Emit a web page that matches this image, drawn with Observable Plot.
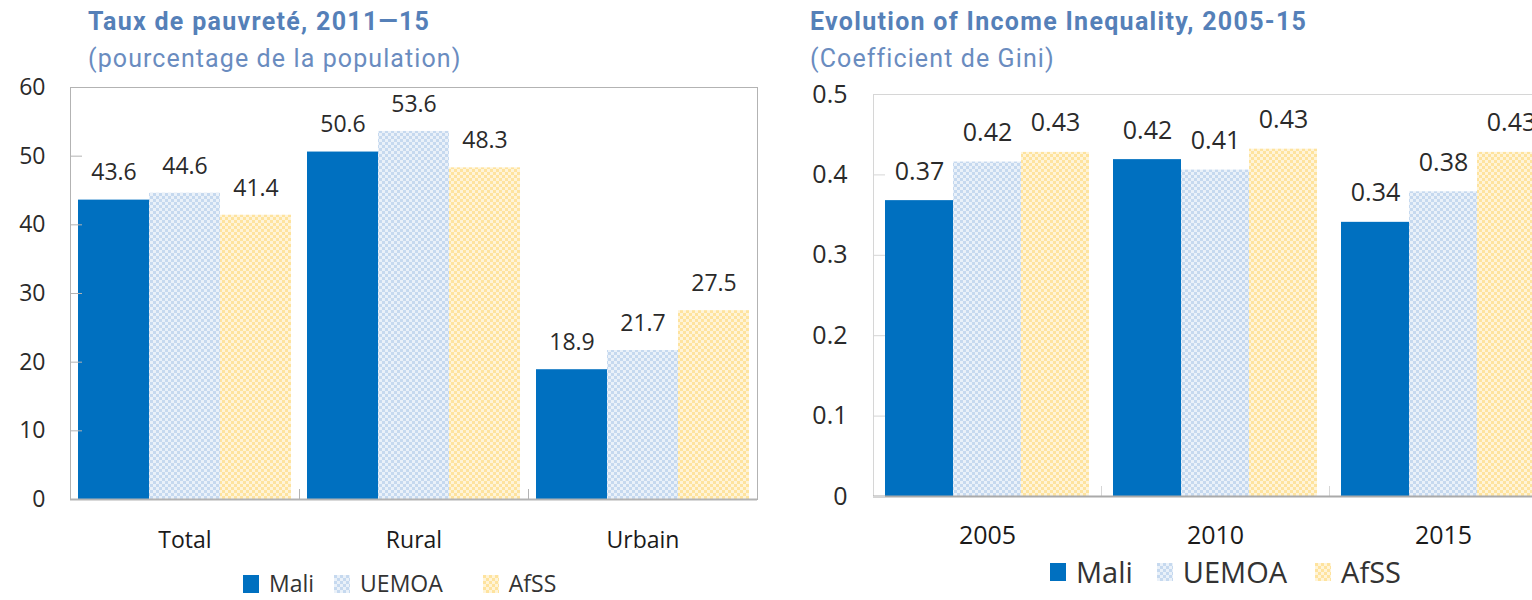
<!DOCTYPE html>
<html><head><meta charset="utf-8">
<script src="https://cdn.jsdelivr.net/npm/d3@7"></script>
<script src="https://cdn.jsdelivr.net/npm/@observablehq/plot@0.6"></script>
<style>
body{margin:0;width:1532px;height:600px;overflow:hidden;background:#fff;font-family:"Open Sans",Roboto,sans-serif;position:relative}
.abs{position:absolute;white-space:nowrap;line-height:1}
.title{color:#5580b8;font-family:Roboto,sans-serif;font-weight:bold;font-size:25px;letter-spacing:1.3px}
.sub{color:#6a8cbf;font-family:Roboto,sans-serif;font-size:25px;letter-spacing:1.1px}
.legend{display:flex;align-items:center;color:#333}
.legend .sw{display:inline-block;margin-right:10px}
.legend .item{display:flex;align-items:center}
</style></head><body>
<svg width="0" height="0" style="position:absolute"><defs>
<pattern id="pat-uemoa" width="6" height="6" patternUnits="userSpaceOnUse"><rect width="6" height="6" fill="#eaf1f9"/><rect width="3" height="3" fill="#c6d9ef"/><rect x="3" y="3" width="3" height="3" fill="#c6d9ef"/></pattern>
<pattern id="pat-afss" width="6" height="6" patternUnits="userSpaceOnUse"><rect width="6" height="6" fill="#fff4d8"/><rect width="3" height="3" fill="#fee39e"/><rect x="3" y="3" width="3" height="3" fill="#fee39e"/></pattern>
</defs></svg>
<script>
// ---- Data ----
const series = ["Mali", "UEMOA", "AfSS"];
const seriesFill = ["#0070c0", "url(#pat-uemoa)", "url(#pat-afss)"];

const povertyTitle = "Taux de pauvreté, 2011—15";
const povertySubtitle = "(pourcentage de la population)";
const povertyGroups = ["Total", "Rural", "Urbain"];
const povertyMali = [43.6, 50.6, 18.9];
const povertyUEMOA = [44.6, 53.6, 21.7];
const povertyAfSS = [41.4, 48.3, 27.5];
const povertyTicks = [0, 10, 20, 30, 40, 50, 60];

const giniTitle = "Evolution of Income Inequality, 2005-15";
const giniSubtitle = "(Coefficient de Gini)";
const giniYears = ["2005", "2010", "2015"];
const giniMali = [0.368, 0.419, 0.341];
const giniUEMOA = [0.416, 0.406, 0.379];
const giniAfSS = [0.428, 0.432, 0.428];
const giniTicks = [0, 0.1, 0.2, 0.3, 0.4, 0.5];

function rows(groups, lists) {
  const out = [];
  groups.forEach((g, i) => series.forEach((s, j) => out.push({group: g, series: s, value: lists[j][i]})));
  return out;
}

function chart(o) {
  const data = rows(o.groups, o.lists);
  const plotH = o.height - o.marginTop - o.marginBottom;
  return Plot.plot({
    width: o.width, height: o.height,
    marginTop: o.marginTop, marginBottom: o.marginBottom, marginLeft: o.marginLeft, marginRight: o.marginRight,
    style: {fontFamily: "'Open Sans', sans-serif", fontSize: o.fontSize + "px", color: "#333", background: "transparent", overflow: "visible"},
    fx: {domain: o.groups, padding: 0, label: null},
    x: {domain: series, paddingInner: 0, paddingOuter: o.paddingOuter, axis: null},
    y: {domain: o.yDomain, ticks: o.ticks, label: null},
    color: {type: "ordinal", domain: series, range: seriesFill},
    marks: [
      Plot.barY(data, {fx: "group", x: "series", y: "value", fill: "series"}),
      Plot.frame({anchor: "left", insetTop: plotH - 10, stroke: o.frameColor}),
      Plot.frame({stroke: o.frameColor, facet: "super"}),
      Plot.ruleY([0], {stroke: o.axisColor, strokeWidth: 2}),
      Plot.axisY({ticks: o.ticks, tickSize: -12, tickFormat: () => "", stroke: o.frameColor, label: null}),
      Plot.axisY({ticks: o.ticks, tickSize: 0, tickPadding: o.yPad, tickFormat: o.yFmt, fill: "#2a2a2a", fontSize: o.fontSize, label: null}),
      Plot.axisFx({anchor: "bottom", tickSize: 0, tickPadding: o.xPad, fill: "#1a1a1a", fontSize: o.fontSize, label: null}),
      Plot.text(data, {fx: "group", x: "series", y: "value", text: d => o.fmt(d.value), dy: o.labelDy, fill: "#2a2a2a", fontSize: o.fontSize})
    ]
  });
}

function legend(left, top, size, gaps) {
  const div = document.createElement("div");
  div.className = "abs legend";
  div.style.left = left + "px"; div.style.top = top + "px"; div.style.fontSize = size + "px";
  series.forEach((s, i) => {
    const it = document.createElement("span"); it.className = "item";
    if (i < series.length - 1) it.style.marginRight = gaps[i] + "px";
    it.innerHTML = `<svg class="sw" width="16" height="18"><rect width="16" height="18" fill="${seriesFill[i]}"/></svg><span>${s}</span>`;
    div.appendChild(it);
  });
  document.body.appendChild(div);
}

function place(el, left, top) {
  el.style.position = "absolute"; el.style.left = left + "px"; el.style.top = top + "px";
  document.body.appendChild(el);
}
function label(text, cls, left, top) {
  const d = document.createElement("div"); d.className = "abs " + cls; d.textContent = text;
  d.style.left = left + "px"; d.style.top = top + "px"; document.body.appendChild(d);
}

label(povertyTitle, "title", 88, 9);
label(povertySubtitle, "sub", 88, 46);
label(giniTitle, "title", 810, 9);
label(giniSubtitle, "sub", 810, 46);

place(chart({
  groups: povertyGroups, lists: [povertyMali, povertyUEMOA, povertyAfSS],
  width: 770, height: 490, marginTop: 17, marginBottom: 61, marginLeft: 70, marginRight: 13,
  paddingOuter: 0.1, yDomain: [0, 60], ticks: povertyTicks, yFmt: d => String(d),
  fmt: v => v.toFixed(1), labelDy: -27, yPad: 25, xPad: 32, fontSize: 23,
  frameColor: "#b3b3b3", axisColor: "#b3b3b3"
}), 0, 70);

place(chart({
  groups: giniYears, lists: [giniMali, giniUEMOA, giniAfSS],
  width: 790, height: 480, marginTop: 24, marginBottom: 54, marginLeft: 93, marginRight: 13,
  paddingOuter: 0.164, yDomain: [0, 0.5], ticks: giniTicks, yFmt: d => d === 0 ? "0" : String(d),
  fmt: v => v.toFixed(2), labelDy: -29, yPad: 26, xPad: 30, fontSize: 25,
  frameColor: "#d6d6d6", axisColor: "#aaaaaa"
}), 780, 70);

legend(243, 572, 23, [20, 40]);
legend(1050, 557, 29, [24, 28]);
</script>
</body></html>
